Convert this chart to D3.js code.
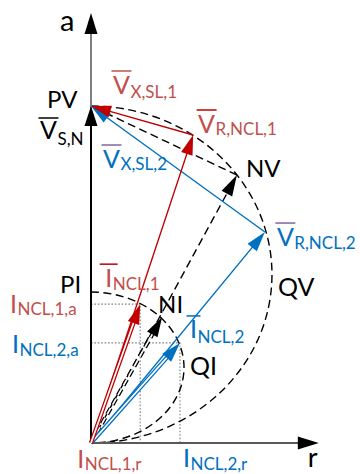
<!DOCTYPE html>
<html><head><meta charset="utf-8">
<script src="https://cdn.jsdelivr.net/npm/d3@7"></script>
<style>html,body{margin:0;padding:0;background:#fff} svg{display:block}</style>
</head><body>
<svg id="chart" width="360" height="474"></svg>
<script>
// Phasor tips in per-unit of the network voltage, given as [r, a]
const pointPV = [0, 1.0];      // network voltage V_S,N
const pointPI = [0, 0.448];
const vRNcl1  = [0.303, 0.914]; // resistive drop, case 1
const vRNcl2  = [0.516, 0.626]; // resistive drop, case 2
const pointNV = [0.433, 0.795];
const iNcl1   = [0.146, 0.412];
const iNcl2   = [0.264, 0.297];
const pointNI = [0.211, 0.374];
// Half-ellipse loci standing on the a-axis: [centre a, semi-axis r, semi-axis a]
const voltageLocus = [0.5, 0.537, 0.5];
const currentLocus = [0.224, 0.276, 0.224];
// Axis extent
const axisMax = [0.676, 1.276];

const RED = "#c00000", RED_TXT = "#c0504d", BLUE = "#0070c0", PURPLE = "#8064a2";

const svg = d3.select("#chart");
const x = d3.scaleLinear().domain([0, 1]).range([91, 428]);
const y = d3.scaleLinear().domain([0, 1]).range([443, 106]);
const P = p => [x(p[0]), y(p[1])];
const O = P([0, 0]);

const g = svg.append("g");

function arrowHead(tip, from, color, len = 20, hw = 6) {
  const dx = tip[0] - from[0], dy = tip[1] - from[1], L = Math.hypot(dx, dy);
  const ux = dx / L, uy = dy / L;
  const bx = tip[0] - ux * len, by = tip[1] - uy * len;
  g.append("path")
    .attr("d", d3.line()([tip, [bx - uy * hw, by + ux * hw], [bx + uy * hw, by - ux * hw]]) + "Z")
    .attr("fill", color);
}
function backOff(tip, from, d) {
  const dx = tip[0] - from[0], dy = tip[1] - from[1], L = Math.hypot(dx, dy);
  return [tip[0] - dx / L * d, tip[1] - dy / L * d];
}
function seg(a, b, color, w, dash) {
  const l = g.append("line").attr("x1", a[0]).attr("y1", a[1]).attr("x2", b[0]).attr("y2", b[1])
    .attr("stroke", color).attr("stroke-width", w);
  if (dash) l.attr("stroke-dasharray", dash);
  return l;
}
function vector(from, tip, color, w = 1.4, dash = null, len = 20, hw = 6) {
  seg(from, backOff(tip, from, len - 3), color, w, dash);
  arrowHead(tip, from, color, len, hw);
}
function doubleVector(from, tip, color, dash = null) {
  const end = backOff(tip, from, 15);
  seg(from, end, color, 4.2, dash);
  seg(from, end, "#fff", 1.7, dash);
  arrowHead(tip, from, color, 20, 6);
}
function halfEllipse(top, locus) {
  const rx = x(locus[1]) - x(0), ry = y(0) - y(locus[2]);
  const bottom = [top[0], top[1] + 2 * ry];
  g.append("path")
    .attr("d", `M${top[0]},${top[1]} A${rx},${ry} 0 0 1 ${bottom[0]},${bottom[1]}`)
    .attr("fill", "none").attr("stroke", "#000").attr("stroke-width", 1.4)
    .attr("stroke-dasharray", "8,4.5");
}

// projection guides for the two currents
[iNcl1, iNcl2].forEach(p => {
  const t = P(p);
  g.append("path")
    .attr("d", d3.line()([[O[0], t[1]], t, [t[0], O[1]]]))
    .attr("fill", "none").attr("stroke", "#808080").attr("stroke-width", 1.1)
    .attr("stroke-dasharray", "1.6,1.8");
});

// loci
halfEllipse(P(pointPV), voltageLocus);
halfEllipse(P(pointPI), currentLocus);

// axes
const aTop = P([0, axisMax[1]]), rEnd = P([axisMax[0], 0]);
seg(O, backOff(aTop, O, 18), "#7f7f7f", 2);
arrowHead(aTop, O, "#000", 21, 6.5);
seg(O, backOff(rEnd, O, 18), "#595959", 2);
arrowHead(rEnd, O, "#000", 21, 6.5);

// network voltage
vector(O, P(pointPV), "#000", 2, null, 20, 6.5);

// no-compensation case
seg(P(pointNV), P(pointPV), "#000", 1.4, "8,4.5");
vector(O, P(pointNV), "#000", 1.4, "8,4.5", 21, 6);
doubleVector(O, P(pointNI), "#000", "7,4");

// case 2 (blue)
vector(O, P(vRNcl2), BLUE, 1.4);
vector(P(vRNcl2), P(pointPV), BLUE, 1.4);
doubleVector(O, P(iNcl2), BLUE);

// case 1 (red)
vector(O, P(vRNcl1), RED, 1.4);
vector(P(vRNcl1), P(pointPV), RED, 1.4);
doubleVector(O, P(iNcl1), RED);

// labels
const FONT = "Lato, 'DejaVu Sans', sans-serif";
function label(anchor, dx, dy, main, sub, color, opts = {}) {
  const size = opts.size || 25, subSize = opts.subSize || 17;
  const x0 = anchor[0] + dx, y0 = anchor[1] + dy;
  const t = g.append("text").attr("x", x0).attr("y", y0)
    .attr("font-family", FONT).attr("font-size", size).attr("fill", color).text(main);
  const w = t.node().getComputedTextLength();
  if (sub) {
    g.append("text").attr("x", x0 + w + (opts.gap || 0.5)).attr("y", y0 + (opts.subDy || 3))
      .attr("font-family", FONT).attr("font-size", subSize).attr("fill", color).text(sub);
  }
  if (opts.over) {
    const cx = x0 + w / 2, half = opts.overHalf || 10;
    seg([cx - half, y0 - (opts.overUp || 23)], [cx + half, y0 - (opts.overUp || 23)], opts.over, 1.5);
  }
}

label(aTop, -31, 18, "a", null, "#000", { size: 29 });
label(rEnd, -11, 24, "r", null, "#000", { size: 27 });
label(P(pointPV), -44, 2, "PV", null, "#000", { size: 24 });
label(P(pointPV), -51, 33, "V", "S,N", "#000", { over: "#000", overUp: 21, subDy: 6 });
label(P(pointPV), 22, -12, "V", "X,SL,1", RED_TXT, { over: RED_TXT, subDy: 4 });
label(P(vRNcl1), 5, -2, "V", "R,NCL,1", RED_TXT, { over: RED, subDy: 2 });
label(P(pointPV), 12, 62, "V", "X,SL,2", BLUE, { over: PURPLE, subDy: 2 });
label(P(pointNV), 9, 2, "NV", null, "#000", { size: 24 });
label(P(vRNcl2), 12, 14, "V", "R,NCL,2", BLUE, { over: PURPLE, subDy: 3 });
label([x(voltageLocus[1]), y(voltageLocus[0])], 6, 21, "QV", null, "#000", { size: 25 });
label(P(pointPI), -31, 1, "PI", null, "#000", { size: 24 });
label(P(iNcl1), -35, -17, "I", "NCL,1", RED_TXT, { over: RED, overHalf: 9, subDy: 3 });
label([O[0], P(iNcl1)[1]], -81, 9, "I", "NCL,1,a", RED_TXT, { subDy: 2 });
label(P(pointNI), -4, -4, "NI", null, "#000", { size: 24 });
label(P(iNcl2), 10, -5, "I", "NCL,2", BLUE, { over: BLUE, overHalf: 7, overUp: 22, subDy: 5 });
label([O[0], P(iNcl2)[1]], -79, 10, "I", "NCL,2,a", BLUE, { subDy: 3 });
label([x(currentLocus[1]), y(currentLocus[0])], 6, 7, "QI", null, "#000", { size: 25 });
label([P(iNcl1)[0], O[1]], -63, 25, "I", "NCL,1,r", RED_TXT, { subDy: 2 });
label([P(iNcl2)[0], O[1]], 3, 24, "I", "NCL,2,r", BLUE, { subDy: 3 });
</script>
</body></html>
